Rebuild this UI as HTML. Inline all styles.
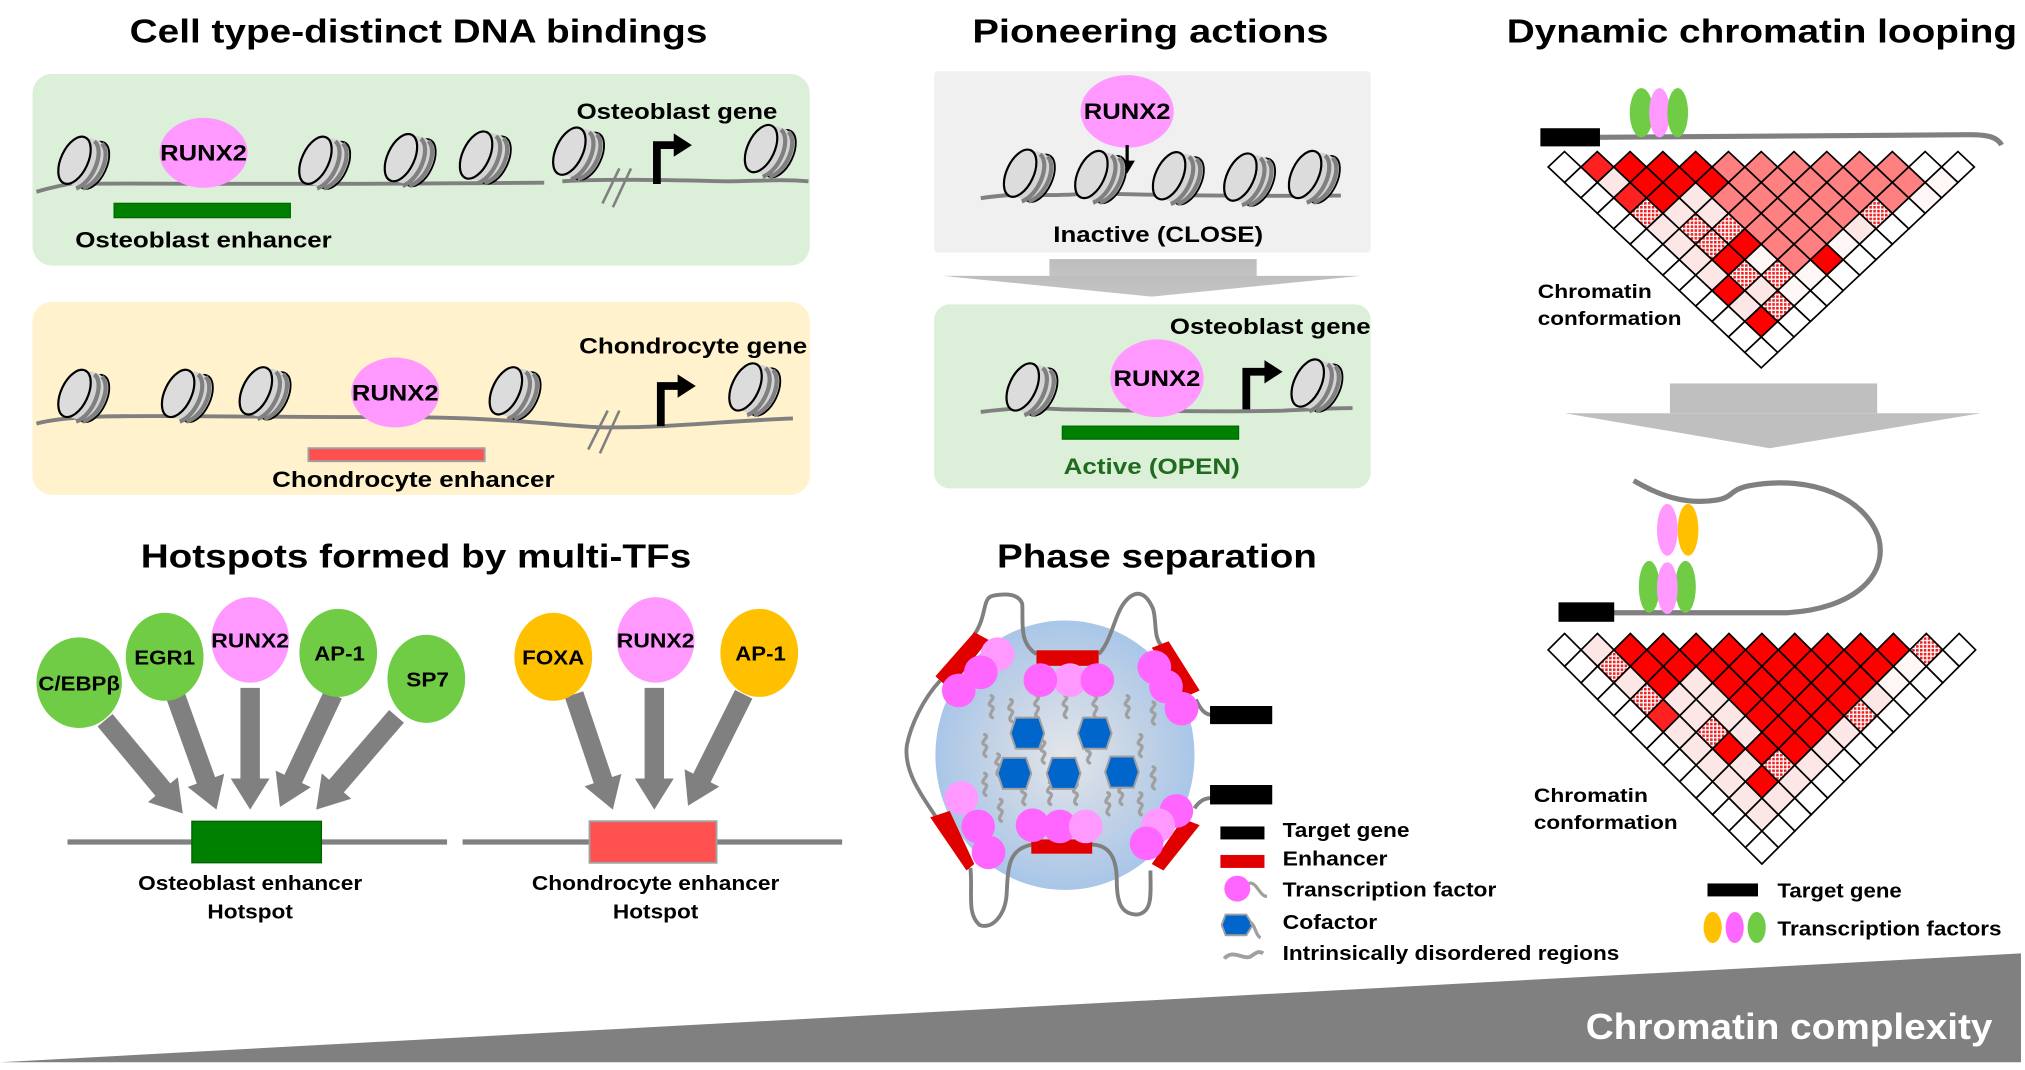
<!DOCTYPE html>
<html><head><meta charset="utf-8">
<style>
html,body{margin:0;padding:0;background:#fff;}
svg{display:block;}
text{font-family:"Liberation Sans",Arial,sans-serif;font-weight:bold;}
</style></head>
<body>
<svg id="s" width="2025" height="1070" viewBox="0 0 1563 826" xmlns="http://www.w3.org/2000/svg">
<defs>
 <g id="nuc">
  <ellipse cx="9" cy="2" rx="8" ry="15" transform="rotate(25 9 2)" fill="#cfcfcf" stroke="#000" stroke-width="1.1"/>
  <ellipse cx="6" cy="1" rx="8" ry="15" transform="rotate(25 6 1)" fill="#d4d4d4"/>
  <ellipse cx="3" cy="0" rx="8" ry="15" transform="rotate(25 3 0)" fill="#d4d4d4"/>
  <path d="M4,-14 C12,-12 14,8 6,16" fill="none" stroke="#808080" stroke-width="2.5" transform="rotate(25 3 0)"/>
  <path d="M9,-13 C17,-10 18,9 10,16" fill="none" stroke="#808080" stroke-width="2.5" transform="rotate(25 7 0)"/>
  <ellipse cx="-2" cy="-1" rx="8" ry="15" transform="rotate(25 -2 -1)" fill="#dcdcdc" stroke="#000" stroke-width="1.3"/>
 </g>
 <pattern id="dots" width="3" height="3" patternUnits="userSpaceOnUse">
  <rect width="3" height="3" fill="#fff"/><rect width="2" height="2" fill="#ee2020"/>
 </pattern>
 <radialGradient id="sph" cx="0.5" cy="0.5" r="0.5">
  <stop offset="0" stop-color="#e3e6ea"/><stop offset="0.55" stop-color="#c4d3e6"/><stop offset="1" stop-color="#a9c6e8"/>
 </radialGradient>
 <linearGradient id="arrg" x1="0" x2="0" y1="0" y2="1">
  <stop offset="0" stop-color="#bdbdbd"/><stop offset="1" stop-color="#c4c4c4"/>
 </linearGradient>
</defs>

<text x="323" y="33" font-size="26" text-anchor="middle" textLength="446" lengthAdjust="spacingAndGlyphs">Cell type-distinct DNA bindings</text>
<text x="888" y="33" font-size="26" text-anchor="middle" textLength="275" lengthAdjust="spacingAndGlyphs">Pioneering  actions</text>
<text x="1360" y="33" font-size="26" text-anchor="middle" textLength="394" lengthAdjust="spacingAndGlyphs">Dynamic chromatin looping</text>
<text x="321" y="438" font-size="26" text-anchor="middle" textLength="425" lengthAdjust="spacingAndGlyphs">Hotspots formed by multi-TFs</text>
<text x="893" y="438" font-size="26" text-anchor="middle" textLength="247" lengthAdjust="spacingAndGlyphs">Phase separation</text>

<rect x="25" y="57" width="600" height="148" rx="15" fill="#dcefd9"/>
<path d="M28,148 C45,143 55,142 62,140 M62,142 C90,141 200,143 420,141 M434,140 C460,138 520,139 560,140 M560,140 C585,140 600,138 624,140" fill="none" stroke="#808080" stroke-width="3"/>
<ellipse cx="157" cy="118" rx="34" ry="27" fill="#ff99ff"/>
<line x1="465" y1="157" x2="478" y2="130" stroke="#808080" stroke-width="2"/>
<line x1="473" y1="160" x2="487" y2="130" stroke="#808080" stroke-width="2"/>
<path d="M507,142 V112 H522" fill="none" stroke="#000" stroke-width="6"/>
<polygon points="520,103 534,112 520,121" fill="#000"/>
<rect x="88" y="157" width="136" height="11" fill="#008000" stroke="#006a00"/>
<text x="157" y="124" font-size="17" text-anchor="middle" textLength="67" lengthAdjust="spacingAndGlyphs">RUNX2</text>
<text x="58" y="191" font-size="17" textLength="198" lengthAdjust="spacingAndGlyphs">Osteoblast enhancer</text>
<text x="445" y="92" font-size="17" textLength="155" lengthAdjust="spacingAndGlyphs">Osteoblast gene</text>

<rect x="25" y="233" width="600" height="149" rx="15" fill="#fff2cc"/>
<path d="M28,327 C60,318 120,322 300,322 C400,322 440,330 470,330 C520,330 560,325 612,323" fill="none" stroke="#808080" stroke-width="3"/>
<ellipse cx="305" cy="303" rx="34" ry="27" fill="#ff99ff"/>
<line x1="454" y1="347" x2="469" y2="317" stroke="#808080" stroke-width="2"/>
<line x1="463" y1="350" x2="478" y2="317" stroke="#808080" stroke-width="2"/>
<path d="M510,329 V298 H525" fill="none" stroke="#000" stroke-width="6"/>
<polygon points="523,289 537,298 523,307" fill="#000"/>
<rect x="238" y="346" width="136" height="10" fill="#ff5050" stroke="#a0a0a0" stroke-width="1.5"/>
<text x="305" y="309" font-size="17" text-anchor="middle" textLength="67" lengthAdjust="spacingAndGlyphs">RUNX2</text>
<text x="210" y="376" font-size="17" textLength="218" lengthAdjust="spacingAndGlyphs">Chondrocyte enhancer</text>
<text x="447" y="273" font-size="17" textLength="176" lengthAdjust="spacingAndGlyphs">Chondrocyte gene</text>

<rect x="721" y="55" width="337" height="140" rx="3" fill="#f0f0f0"/>
<path d="M757,153 C790,148 800,152 830,150 C850,148 870,152 1035,151" fill="none" stroke="#808080" stroke-width="3"/>
<ellipse cx="870" cy="86" rx="36" ry="28" fill="#ff99ff"/>
<line x1="870" y1="112" x2="870" y2="125" stroke="#000" stroke-width="2.5"/>
<polygon points="864,124 876,124 870,134" fill="#000"/>
<text x="870" y="92" font-size="17" text-anchor="middle" textLength="67" lengthAdjust="spacingAndGlyphs">RUNX2</text>
<text x="813" y="187" font-size="17" textLength="162" lengthAdjust="spacingAndGlyphs">Inactive (CLOSE)</text>
<rect x="810" y="200" width="160" height="14" fill="url(#arrg)"/>
<polygon points="728,213 1050,213 889,229" fill="url(#arrg)"/>
<rect x="721" y="235" width="337" height="142" rx="12" fill="#dcefd9"/>
<path d="M757,318 C790,314 800,315 820,316 C870,317 950,318 990,317 C1010,316 1030,315 1044,315" fill="none" stroke="#808080" stroke-width="3"/>
<ellipse cx="893" cy="292" rx="36" ry="30" fill="#ff99ff"/>
<path d="M962,316 V287 H978" fill="none" stroke="#000" stroke-width="6"/>
<polygon points="976,278 990,287 976,296" fill="#000"/>
<rect x="820" y="329" width="136" height="10" fill="#008000" stroke="#006a00"/>
<text x="893" y="298" font-size="17" text-anchor="middle" textLength="67" lengthAdjust="spacingAndGlyphs">RUNX2</text>
<text x="903" y="258" font-size="17" textLength="155" lengthAdjust="spacingAndGlyphs">Osteoblast gene</text>
<text x="821" y="366" font-size="17" fill="#1f6b1f" textLength="136" lengthAdjust="spacingAndGlyphs">Active (OPEN)</text>

<g id="nucs"></g>

<g id="arrows" fill="#808080"></g>
<line x1="52" y1="650" x2="345" y2="650" stroke="#808080" stroke-width="4"/>
<line x1="357" y1="650" x2="650" y2="650" stroke="#808080" stroke-width="4"/>
<rect x="148" y="634" width="100" height="32" fill="#008000" stroke="#006000"/>
<rect x="455" y="634" width="98" height="32" fill="#ff5050" stroke="#a0a0a0" stroke-width="1.5"/>
<g font-size="16" text-anchor="middle">
<ellipse cx="61" cy="527" rx="33" ry="35" fill="#6fcc44"/><text x="61" y="533" textLength="63" lengthAdjust="spacingAndGlyphs">C/EBPβ</text>
<ellipse cx="127" cy="507" rx="30" ry="34" fill="#6fcc44"/><text x="127" y="513" textLength="47" lengthAdjust="spacingAndGlyphs">EGR1</text>
<ellipse cx="193" cy="494" rx="30" ry="33" fill="#ff99ff"/><text x="193" y="500" textLength="60" lengthAdjust="spacingAndGlyphs">RUNX2</text>
<ellipse cx="261" cy="504" rx="30" ry="34" fill="#6fcc44"/><text x="262" y="510" textLength="39" lengthAdjust="spacingAndGlyphs">AP-1</text>
<ellipse cx="329" cy="524" rx="30" ry="34" fill="#6fcc44"/><text x="330" y="530" textLength="33" lengthAdjust="spacingAndGlyphs">SP7</text>
<ellipse cx="427" cy="507" rx="30" ry="34" fill="#ffc000"/><text x="427" y="513" textLength="48" lengthAdjust="spacingAndGlyphs">FOXA</text>
<ellipse cx="506" cy="494" rx="30" ry="33" fill="#ff99ff"/><text x="506" y="500" textLength="60" lengthAdjust="spacingAndGlyphs">RUNX2</text>
<ellipse cx="586" cy="504" rx="30" ry="34" fill="#ffc000"/><text x="587" y="510" textLength="39" lengthAdjust="spacingAndGlyphs">AP-1</text>
<text x="193" y="687" textLength="173" lengthAdjust="spacingAndGlyphs">Osteoblast enhancer</text>
<text x="193" y="709" textLength="66" lengthAdjust="spacingAndGlyphs">Hotspot</text>
<text x="506" y="687" textLength="191" lengthAdjust="spacingAndGlyphs">Chondrocyte enhancer</text>
<text x="506" y="709" textLength="66" lengthAdjust="spacingAndGlyphs">Hotspot</text>
</g>

<ellipse cx="822" cy="583" rx="100" ry="104" fill="url(#sph)"/>
<g fill="none" stroke="#808080" stroke-width="3">
<path d="M752,490 C762,475 758,462 766,460 C776,458 786,458 789,466 C790,480 786,496 800,505"/>
<path d="M848,505 C858,495 860,475 868,465 C876,455 884,456 890,470 C893,480 890,492 897,499"/>
<path d="M726,525 C712,540 703,560 700,575 C697,595 712,615 722,630"/>
<path d="M749,670 C751,690 746,705 756,714 C766,718 776,706 777,690 C778,670 778,655 797,652"/>
<path d="M842,652 C858,652 862,665 862,680 C862,696 865,706 878,706 C890,704 888,690 888,672"/>
<path d="M923,540 C927,548 930,552 936,552"/>
<path d="M922,624 C926,618 930,616 936,616"/>
</g>
<g id="idr" fill="none" stroke="#a0a0a0" stroke-width="2.5" stroke-linecap="round"></g>
<g fill="#0066cc" stroke="#a0a0a0" stroke-width="1.5" id="hexes"></g>
<g fill="#e00000">
<rect x="800" y="502" width="48" height="12"/>
<rect x="796" y="648" width="47" height="11"/>
<polygon points="722,522 752,488 763,494 733,532"/>
<polygon points="889,500 902,495 926,533 915,538"/>
<polygon points="718,631 733,626 752,667 746,672"/>
<polygon points="889,667 913,632 926,637 898,672"/>
</g>
<g>
<circle cx="770" cy="505" r="13" fill="#ff99ff"/><circle cx="757" cy="519" r="13" fill="#ff66ff"/><circle cx="740" cy="533" r="13" fill="#ff66ff"/>
<circle cx="826" cy="525" r="13" fill="#ff99ff"/><circle cx="803" cy="525" r="13" fill="#ff66ff"/><circle cx="847" cy="525" r="13" fill="#ff66ff"/>
<circle cx="891" cy="515" r="13" fill="#ff66ff"/><circle cx="900" cy="530" r="13" fill="#ff66ff"/><circle cx="912" cy="547" r="13" fill="#ff66ff"/>
<circle cx="742" cy="616" r="13" fill="#ff99ff"/><circle cx="755" cy="638" r="13" fill="#ff66ff"/><circle cx="763" cy="658" r="13" fill="#ff66ff"/>
<circle cx="797" cy="637" r="13" fill="#ff66ff"/><circle cx="818" cy="638" r="13" fill="#ff66ff"/><circle cx="838" cy="638" r="13" fill="#ff99ff"/>
<circle cx="908" cy="626" r="13" fill="#ff66ff"/><circle cx="894" cy="637" r="13" fill="#ff99ff"/><circle cx="885" cy="651" r="13" fill="#ff66ff"/>
</g>
<rect x="934" y="545" width="48" height="14" fill="#000"/>
<rect x="934" y="606" width="48" height="15" fill="#000"/>
<rect x="942" y="638" width="34" height="10" fill="#000"/>
<rect x="942" y="660" width="34" height="10" fill="#e00000"/>
<circle cx="955" cy="686" r="10" fill="#ff66ff"/>
<path d="M964,682 C970,680 972,692 978,692" fill="none" stroke="#a0a0a0" stroke-width="2.5"/>
<polygon points="946,706 962,706 967,714 962,722 946,722 943,714" fill="#0066cc" stroke="#a0a0a0" stroke-width="1.5"/>
<path d="M965,712 C969,714 969,722 973,724" fill="none" stroke="#a0a0a0" stroke-width="2.5"/>
<path d="M945,740 C952,732 960,742 966,738 C970,735 972,734 975,736" fill="none" stroke="#a0a0a0" stroke-width="3"/>
<g font-size="16">
<text x="990" y="646" textLength="98" lengthAdjust="spacingAndGlyphs">Target gene</text>
<text x="990" y="668" textLength="81" lengthAdjust="spacingAndGlyphs">Enhancer</text>
<text x="990" y="692" textLength="165" lengthAdjust="spacingAndGlyphs">Transcription factor</text>
<text x="990" y="717" textLength="73" lengthAdjust="spacingAndGlyphs">Cofactor</text>
<text x="990" y="741" textLength="260" lengthAdjust="spacingAndGlyphs">Intrinsically disordered regions</text>
</g>

<path d="M1233,106 L1520,104 C1535,104 1542,106 1545,112" fill="none" stroke="#808080" stroke-width="4"/>
<rect x="1189" y="99" width="46" height="14" fill="#000"/>
<ellipse cx="1267" cy="87" rx="9" ry="19" fill="#6fcc44"/>
<ellipse cx="1281" cy="87" rx="8" ry="19" fill="#ff99ff"/>
<ellipse cx="1295" cy="87" rx="8" ry="19" fill="#6fcc44"/>
<g id="hm1"></g>
<text x="1187" y="230" font-size="15" textLength="88" lengthAdjust="spacingAndGlyphs">Chromatin</text>
<text x="1187" y="251" font-size="15" textLength="111" lengthAdjust="spacingAndGlyphs">conformation</text>
<rect x="1289" y="296" width="160" height="23" fill="#bfbfbf"/>
<polygon points="1208,319 1529,319 1366,346" fill="#bfbfbf"/>
<path d="M1261,371 C1280,382 1300,390 1325,386 C1338,384 1335,378 1350,375 C1400,366 1440,385 1450,415 C1458,445 1430,470 1380,473 L1241,473" fill="none" stroke="#808080" stroke-width="4"/>
<rect x="1203" y="465" width="43" height="15" fill="#000"/>
<ellipse cx="1287" cy="409" rx="8" ry="20" fill="#ff99ff"/>
<ellipse cx="1303" cy="409" rx="8" ry="20" fill="#ffc000"/>
<ellipse cx="1273" cy="453" rx="8" ry="20" fill="#6fcc44"/>
<ellipse cx="1301" cy="453" rx="8" ry="20" fill="#6fcc44"/>
<ellipse cx="1287" cy="454" rx="8" ry="20" fill="#ff99ff"/>
<g id="hm2"></g>
<text x="1184" y="619" font-size="15" textLength="88" lengthAdjust="spacingAndGlyphs">Chromatin</text>
<text x="1184" y="640" font-size="15" textLength="111" lengthAdjust="spacingAndGlyphs">conformation</text>
<rect x="1318" y="682" width="39" height="10" fill="#000"/>
<ellipse cx="1322" cy="716" rx="7" ry="12" fill="#ffc000"/>
<ellipse cx="1339" cy="716" rx="7" ry="12" fill="#ff66ff"/>
<ellipse cx="1356" cy="716" rx="7" ry="12" fill="#6fcc44"/>
<text x="1372" y="693" font-size="16" textLength="96" lengthAdjust="spacingAndGlyphs">Target gene</text>
<text x="1372" y="722" font-size="16" textLength="173" lengthAdjust="spacingAndGlyphs">Transcription factors</text>

<polygon points="0,820 1560,736 1560,820" fill="#808080"/>
<text x="1538" y="802" font-size="28" fill="#fff" text-anchor="end" textLength="314" lengthAdjust="spacingAndGlyphs">Chromatin complexity</text>
</svg>
<script>
var NS="http://www.w3.org/2000/svg";
function el(p,t,a){var e=document.createElementNS(NS,t);for(var k in a)e.setAttribute(k,a[k]);p.appendChild(e);return e;}
var nucs=[[60,125],[246,125],[312,123],[370,121],[442,118],[590,116],[60,305],[140,305],[200,303],[393,303],[578,300],[790,135],[845,136],[905,137],[960,138],[1010,136],[792,300],[1012,297]];
var nucG=document.getElementById('nucs');
nucs.forEach(function(n){el(nucG,'use',{href:'#nuc',transform:'translate('+n[0]+','+n[1]+') scale(1.3)'});});
var arr=[[81,556,141,628],[135,536,167,625],[193,531,193,625],[257,536,216,623],[306,553,244,625],[443,536,473,625],[505,531,505,625],[574,536,531,622]];
var AG=document.getElementById('arrows');
arr.forEach(function(a){var dx=a[2]-a[0],dy=a[3]-a[1],L=Math.hypot(dx,dy),ux=dx/L,uy=dy/L,px=-uy,py=ux,w=7.5,hw=15,hl=24;
var bx=a[2]-ux*hl,by=a[3]-uy*hl;
var pts=[[a[0]+px*w,a[1]+py*w],[bx+px*w,by+py*w],[bx+px*hw,by+py*hw],[a[2],a[3]],[bx-px*hw,by-py*hw],[bx-px*w,by-py*w],[a[0]-px*w,a[1]-py*w]];
el(AG,'polygon',{points:pts.map(function(p){return p.join(',')}).join(' ')});});
var HG=document.getElementById('hexes');
[[793,566],[845,566],[783,597],[821,597],[866,596]].forEach(function(h){var x=h[0],y=h[1];
el(HG,'polygon',{points:[[x-9,y-12],[x+9,y-12],[x+13,y],[x+9,y+12],[x-9,y+12],[x-13,y]].map(function(p){return p.join(',')}).join(' ')});});
var IG=document.getElementById('idr');
[[765,545],[780,548],[800,545],[822,545],[845,545],[870,545],[890,550],[760,575],[770,590],[880,575],[890,600],[760,605],[790,612],[810,612],[830,612],[865,612],[880,620],[772,625],[855,620],[840,580],[805,580]].forEach(function(q){var x=q[0],y=q[1];
el(IG,'path',{d:'M'+x+','+(y-8)+' c5,2 -5,6 0,8 c5,2 -4,6 1,9'});});
var W='#fff',R='#ff0000',R2='#ff2020',P='#ff8080',L='#fde6e6',D='url(#dots)',V='#fff6f6';
var m1=[[W,R2,R,R,R,P,P,P,P,P,P,W,W],[W,L,R,R,R,P,P,P,P,P,P,V],[W,R2,R,L,P,P,P,P,P,P,V],[W,D,L,L,P,P,P,P,D,W],[W,L,D,D,P,P,P,L,W],[W,L,D,R,P,P,V,W],[W,L,R,V,P,R,W],[W,L,D,D,V,W],[W,R,L,V,W],[W,L,D,W],[W,R,W],[W,W],[W]];
var m2=[[W,L,R,R,R,R,R,R,R,R,R,D,W],[W,D,R,R,R,R,R,R,R,R,V,W],[W,L,R,L,R,R,R,R,R,V,W],[W,D,L,L,R,R,R,R,L,W],[W,R2,L,L,R,R,R,D,W],[W,L,D,L,R,R,L,W],[W,L,R,R,R,L,W],[W,L,L,D,L,W],[W,L,R,L,W],[W,L,L,W],[W,L,W],[W,W],[W]];
function hm(id,x0,yt,x1,yb,m){var g=document.getElementById(id),h=(x1-x0)/26,v=(yb-yt)/14;
for(var r=0;r<13;r++)for(var k=0;k<13-r;k++){var cx=x0+h*(1+2*k+r),cy=yt+v*(1+r);
el(g,'polygon',{points:(cx)+','+(cy-v)+' '+(cx+h)+','+cy+' '+cx+','+(cy+v)+' '+(cx-h)+','+cy,fill:m[r][k],stroke:'#000','stroke-width':1.3});}}
hm('hm1',1195,117,1524,284,m1);
hm('hm2',1195,489,1525,667,m2);
</script>
</body></html>
